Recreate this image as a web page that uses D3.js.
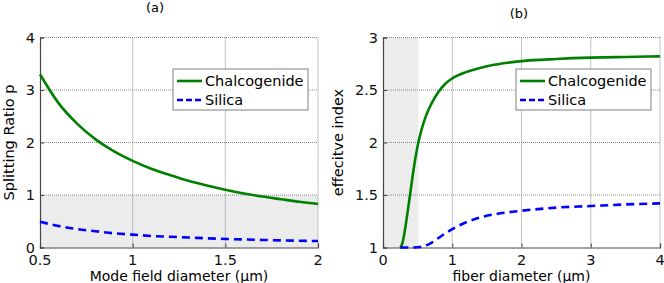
<!DOCTYPE html>
<html>
<head>
<meta charset="utf-8">
<script src="https://cdn.jsdelivr.net/npm/d3@7"></script>
<style>
  body { margin: 0; background: #fff; }
  svg { font-family: "DejaVu Sans", sans-serif; }
</style>
</head>
<body>
<div id="chart"></div>
<script>
// panel (a): splitting ratio vs mode field diameter
const mfd = [0.5, 0.6, 0.7, 0.8, 0.9, 1.0, 1.1, 1.2, 1.3, 1.4, 1.5, 1.6, 1.7, 1.8, 1.9, 2.0];
const ratioChalco = [3.30, 2.75, 2.36, 2.06, 1.83, 1.65, 1.50, 1.38, 1.27, 1.18, 1.10, 1.03, 0.97, 0.92, 0.87, 0.83];
const ratioSilica = [0.49, 0.41, 0.35, 0.31, 0.27, 0.245, 0.22, 0.205, 0.19, 0.175, 0.163, 0.153, 0.144, 0.136, 0.129, 0.123];

// panel (b): effective index vs fiber diameter
const diamChalco = [0.25, 0.28, 0.32, 0.36, 0.39, 0.43, 0.47, 0.51, 0.56, 0.63, 0.7, 0.8, 0.9, 1.0, 1.2, 1.4, 1.6, 1.8, 2.0, 2.5, 3.0, 3.5, 4.0];
const neffChalco = [1.0, 1.04, 1.18, 1.36, 1.5, 1.69, 1.86, 2.0, 2.13, 2.27, 2.37, 2.48, 2.56, 2.61, 2.67, 2.71, 2.74, 2.76, 2.775, 2.795, 2.808, 2.815, 2.82];
const diamSilica = [0.25, 0.4, 0.5, 0.6, 0.7, 0.8, 0.9, 1.0, 1.2, 1.4, 1.6, 1.8, 2.0, 2.5, 3.0, 3.5, 4.0];
const neffSilica = [1.0, 1.0, 1.002, 1.015, 1.045, 1.09, 1.135, 1.175, 1.24, 1.285, 1.315, 1.335, 1.35, 1.38, 1.395, 1.41, 1.42];

const ticksA_x = [0.5, 1, 1.5, 2];
const ticksA_y = [0, 1, 2, 3, 4];
const ticksB_x = [0, 1, 2, 3, 4];
const ticksB_y = [1, 1.5, 2, 2.5, 3];
const seriesNames = ["Chalcogenide", "Silica"];

const svg = d3.select("#chart").append("svg")
  .attr("width", 664)
  .attr("height", 283);

function drawPanel(p) {
  const x = d3.scaleLinear().domain(p.xDomain).range([p.left, p.right]);
  const y = d3.scaleLinear().domain(p.yDomain).range([p.bottom, p.top]);
  const g = svg.append("g");

  // shaded band
  g.append("rect")
    .attr("x", x(p.shade.x0)).attr("y", y(p.shade.y1))
    .attr("width", x(p.shade.x1) - x(p.shade.x0))
    .attr("height", y(p.shade.y0) - y(p.shade.y1))
    .attr("fill", "#ececec");

  // grid, dotted
  g.selectAll(".gx").data(p.xTicks.slice(1)).enter().append("line")
    .attr("x1", d => x(d)).attr("x2", d => x(d))
    .attr("y1", p.top).attr("y2", p.bottom)
    .attr("stroke", "#888").attr("stroke-dasharray", "1,1");
  g.selectAll(".gy").data(p.yTicks.slice(1)).enter().append("line")
    .attr("x1", p.left).attr("x2", p.right)
    .attr("y1", d => y(d)).attr("y2", d => y(d))
    .attr("stroke", "#888").attr("stroke-dasharray", "1,1");

  // axes with inward ticks
  const xAxis = g.append("g").attr("transform", `translate(0,${p.bottom})`)
    .call(d3.axisTop(x).tickValues(p.xTicks).tickSize(4).tickFormat(""));
  const yAxis = g.append("g").attr("transform", `translate(${p.left},0)`)
    .call(d3.axisRight(y).tickValues(p.yTicks).tickSize(4).tickFormat(""));
  [xAxis, yAxis].forEach(a => {
    a.select(".domain").attr("stroke", "#444").attr("stroke-width", 1.2);
    a.selectAll(".tick line").attr("stroke", "#444");
  });

  g.selectAll(".xl").data(p.xTicks).enter().append("text")
    .attr("x", d => x(d)).attr("y", p.bottom + 17.5)
    .attr("text-anchor", "middle").attr("font-size", 14.5).attr("fill", "#111")
    .text(d => d);
  g.selectAll(".yl").data(p.yTicks).enter().append("text")
    .attr("x", p.left - 5).attr("y", d => y(d) + 5)
    .attr("text-anchor", "end").attr("font-size", 14.5).attr("fill", "#111")
    .text(d => d);

  // curves
  const line = d3.line().x(d => x(d[0])).y(d => y(d[1])).curve(d3.curveMonotoneX);
  g.append("path").datum(d3.zip(p.s1x, p.s1y))
    .attr("d", line).attr("fill", "none")
    .attr("stroke", "#008000").attr("stroke-width", 2.6);
  g.append("path").datum(d3.zip(p.s2x, p.s2y))
    .attr("d", line).attr("fill", "none")
    .attr("stroke", "#0000ff").attr("stroke-width", 2.6)
    .attr("stroke-dasharray", "8,5");

  // labels
  g.append("text").attr("x", p.titleX).attr("y", p.titleY)
    .attr("text-anchor", "middle").attr("font-size", 13).text(p.title);
  g.append("text").attr("x", (p.left + p.right) / 2).attr("y", 280.5)
    .attr("text-anchor", "middle").attr("font-size", 14).text(p.xLabel);
  g.append("text")
    .attr("transform", `translate(${p.yLabelX},${(p.top + p.bottom) / 2}) rotate(-90)`)
    .attr("text-anchor", "middle").attr("font-size", 14.5).text(p.yLabel);

  // legend
  const lg = g.append("g").attr("transform", `translate(${p.legendX},69)`);
  lg.append("rect").attr("width", 135).attr("height", 41)
    .attr("fill", "#fff").attr("stroke", "#808080");
  seriesNames.forEach((name, i) => {
    const yy = 12 + i * 19;
    lg.append("line").attr("x1", 4).attr("x2", 29).attr("y1", yy).attr("y2", yy)
      .attr("stroke", i === 0 ? "#008000" : "#0000ff").attr("stroke-width", 2.6)
      .attr("stroke-dasharray", i === 0 ? null : "6,3");
    lg.append("text").attr("x", 32).attr("y", yy + 5)
      .attr("font-size", 14.5).text(name);
  });
}

drawPanel({
  left: 40, right: 318, top: 37.5, bottom: 247.5,
  xDomain: [0.5, 2], yDomain: [0, 4],
  xTicks: ticksA_x, yTicks: ticksA_y,
  shade: { x0: 0.5, x1: 2, y0: 0, y1: 1 },
  s1x: mfd, s1y: ratioChalco, s2x: mfd, s2y: ratioSilica,
  title: "(a)", titleX: 155, titleY: 12,
  xLabel: "Mode field diameter (\u00b5m)", yLabel: "Splitting Ratio p", yLabelX: 14,
  legendX: 173
});

drawPanel({
  left: 383, right: 660, top: 37.5, bottom: 247.5,
  xDomain: [0, 4], yDomain: [1, 3],
  xTicks: ticksB_x, yTicks: ticksB_y,
  shade: { x0: 0, x1: 0.51, y0: 1, y1: 3 },
  s1x: diamChalco, s1y: neffChalco, s2x: diamSilica, s2y: neffSilica,
  title: "(b)", titleX: 519, titleY: 18,
  xLabel: "fiber diameter (\u00b5m)", yLabel: "effecitve index", yLabelX: 343,
  legendX: 516
});
</script>
</body>
</html>
